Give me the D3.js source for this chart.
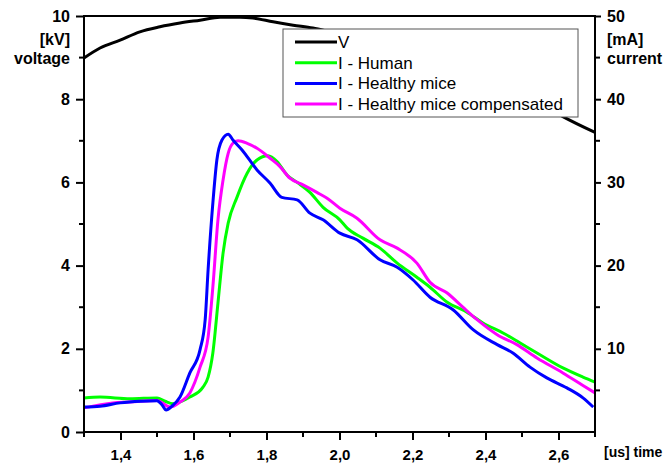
<!DOCTYPE html>
<html>
<head>
<meta charset="utf-8">
<script src="https://cdn.jsdelivr.net/npm/d3@7"></script>
<style>
  body { margin: 0; background: #fff; }
  text { font-family: Arial, "Liberation Sans", sans-serif; }
</style>
</head>
<body>
<div id="chart"></div>
<script>
// voltage [kV], time [us]
const tV = [1.30, 1.344, 1.399, 1.453, 1.508, 1.563, 1.618, 1.673, 1.727, 1.763, 1.818, 1.873, 1.927, 1.966, 2.04, 2.111, 2.19, 2.275, 2.36, 2.44, 2.53, 2.612, 2.70]
const vV = [8.99, 9.23, 9.42, 9.62, 9.74, 9.83, 9.90, 9.97, 9.97, 9.95, 9.86, 9.78, 9.71, 9.64, 9.49, 9.32, 9.14, 8.93, 8.68, 8.38, 8.0, 7.58, 7.2]

// currents [mA]
const tHuman = [1.30, 1.344, 1.426, 1.50, 1.522, 1.544, 1.590, 1.626, 1.640, 1.653, 1.667, 1.681, 1.695, 1.719, 1.747, 1.774, 1.804, 1.829, 1.856, 1.884, 1.919, 1.955, 2.001, 2.021, 2.064, 2.111, 2.158, 2.212, 2.248, 2.295, 2.349, 2.393, 2.448, 2.495, 2.541, 2.612, 2.667, 2.70]
const iHuman = [4.1, 4.2, 4.0, 4.1, 3.7, 3.4, 4.2, 5.4, 6.6, 9.5, 15.5, 21.5, 25.1, 28.2, 31.1, 32.7, 33.2, 32.5, 30.9, 30.0, 28.8, 27.0, 25.5, 24.5, 23.3, 22.1, 20.3, 18.6, 17.4, 15.6, 14.4, 13.1, 11.9, 10.7, 9.5, 7.7, 6.6, 6.0]

const tMice = [1.30, 1.344, 1.399, 1.455, 1.50, 1.514, 1.525, 1.541, 1.563, 1.590, 1.618, 1.632, 1.640, 1.653, 1.664, 1.678, 1.695, 1.708, 1.733, 1.774, 1.810, 1.842, 1.884, 1.919, 1.955, 2.001, 2.048, 2.111, 2.158, 2.201, 2.248, 2.311, 2.366, 2.432, 2.475, 2.522, 2.568, 2.623, 2.667, 2.695]
const iMice = [3.0, 3.1, 3.5, 3.7, 3.76, 3.25, 2.64, 3.1, 4.2, 7.1, 9.9, 13.5, 19.5, 27.5, 32.7, 35.1, 35.8, 35.1, 33.9, 31.5, 29.9, 28.2, 27.9, 26.3, 25.5, 23.9, 23.1, 20.7, 19.8, 18.3, 16.2, 14.7, 12.3, 10.5, 9.5, 7.8, 6.5, 5.3, 4.1, 3.0]

const tComp = [1.30, 1.379, 1.426, 1.50, 1.536, 1.563, 1.590, 1.618, 1.640, 1.653, 1.667, 1.681, 1.695, 1.708, 1.722, 1.747, 1.774, 1.810, 1.837, 1.864, 1.900, 1.938, 1.966, 2.001, 2.048, 2.111, 2.158, 2.212, 2.248, 2.295, 2.338, 2.377, 2.432, 2.486, 2.541, 2.612, 2.667, 2.70]
const iComp = [2.9, 3.5, 3.6, 3.8, 3.0, 3.6, 4.7, 7.8, 11.4, 17.4, 25.5, 30.3, 33.5, 34.7, 35.0, 34.7, 34.1, 32.9, 31.9, 30.5, 29.7, 28.8, 28.1, 26.9, 25.7, 23.1, 22.1, 20.3, 18.0, 16.7, 15.0, 13.5, 11.7, 10.5, 8.9, 7.1, 5.6, 4.7]

const xTicks = [1.4, 1.6, 1.8, 2.0, 2.2, 2.4, 2.6]
const xMinor = [1.3, 1.5, 1.7, 1.9, 2.1, 2.3, 2.5, 2.7]
const yLeftTicks = [0, 2, 4, 6, 8, 10]
const yLeftMinor = [1, 3, 5, 7, 9]
const yRightTicks = [10, 20, 30, 40, 50]
const yRightMinor = [5, 15, 25, 35, 45]

const legendNames = ["V", "I - Human", "I - Healthy mice", "I - Healthy mice compensated"]
const colors = ["#000000", "#00ff00", "#0000ff", "#ff00ff"]

const width = 666, height = 464
const margin = { top: 16, right: 71, bottom: 32, left: 84 }

const svg = d3.select("#chart").append("svg")
  .attr("width", width)
  .attr("height", height)

const x = d3.scaleLinear().domain([1.3, 2.7]).range([margin.left, width - margin.right])
const yL = d3.scaleLinear().domain([0, 10]).range([height - margin.bottom, margin.top])
const yR = d3.scaleLinear().domain([0, 50]).range([height - margin.bottom, margin.top])

const x0 = x.range()[0], x1 = x.range()[1]
const yb = yL.range()[0], yt = yL.range()[1]

// curves
const toPts = (ts, vs) => ts.map((t, i) => [t, vs[i]])
const lineL = d3.line().x(d => x(d[0])).y(d => yL(d[1])).curve(d3.curveMonotoneX)
const lineR = d3.line().x(d => x(d[0])).y(d => yR(d[1])).curve(d3.curveMonotoneX)

const g = svg.append("g")
g.append("path").datum(toPts(tV, vV)).attr("d", lineL)
  .attr("fill", "none").attr("stroke", colors[0]).attr("stroke-width", 3)
g.append("path").datum(toPts(tHuman, iHuman)).attr("d", lineR)
  .attr("fill", "none").attr("stroke", colors[1]).attr("stroke-width", 3)
g.append("path").datum(toPts(tComp, iComp)).attr("d", lineR)
  .attr("fill", "none").attr("stroke", colors[3]).attr("stroke-width", 3)
g.append("path").datum(toPts(tMice, iMice)).attr("d", lineR)
  .attr("fill", "none").attr("stroke", colors[2]).attr("stroke-width", 3)

// frame
svg.append("rect")
  .attr("x", x0).attr("y", yt)
  .attr("width", x1 - x0).attr("height", yb - yt)
  .attr("fill", "none").attr("stroke", "#000").attr("stroke-width", 2)

// bottom axis
const bottom = svg.append("g").attr("transform", `translate(0,${yb})`)
  .call(d3.axisBottom(x).tickValues(xTicks).tickSize(8).tickPadding(9)
    .tickFormat(d => d3.format(".1f")(d).replace(".", ",")))
bottom.select(".domain").remove()
bottom.selectAll(".tick line").attr("stroke-width", 2)
bottom.selectAll(".tick text")
  .style("font-size", "15px").style("font-weight", "bold").attr("fill", "#000")
svg.append("g").selectAll("line").data(xMinor).join("line")
  .attr("x1", d => x(d)).attr("x2", d => x(d))
  .attr("y1", yb).attr("y2", yb + 5)
  .attr("stroke", "#000").attr("stroke-width", 2)

// left axis
const left = svg.append("g").attr("transform", `translate(${x0},0)`)
  .call(d3.axisLeft(yL).tickValues(yLeftTicks).tickSize(8).tickPadding(6).tickFormat(d3.format("d")))
left.select(".domain").remove()
left.selectAll(".tick line").attr("stroke-width", 2)
left.selectAll(".tick text")
  .style("font-size", "16px").style("font-weight", "bold").attr("fill", "#000")
svg.append("g").selectAll("line").data(yLeftMinor).join("line")
  .attr("x1", x0 - 5).attr("x2", x0)
  .attr("y1", d => yL(d)).attr("y2", d => yL(d))
  .attr("stroke", "#000").attr("stroke-width", 2)

// right axis
const right = svg.append("g").attr("transform", `translate(${x1},0)`)
  .call(d3.axisRight(yR).tickValues(yRightTicks).tickSize(6).tickPadding(6).tickFormat(d3.format("d")))
right.select(".domain").remove()
right.selectAll(".tick line").attr("stroke-width", 2)
right.selectAll(".tick text")
  .style("font-size", "16px").style("font-weight", "bold").attr("fill", "#000")
svg.append("g").selectAll("line").data(yRightMinor).join("line")
  .attr("x1", x1).attr("x2", x1 + 5)
  .attr("y1", d => yR(d)).attr("y2", d => yR(d))
  .attr("stroke", "#000").attr("stroke-width", 2)

// axis titles
const bold = (sel, size) => sel.style("font-size", size + "px").style("font-weight", "bold").attr("fill", "#000")
svg.append("text").attr("x", 70).attr("y", 45).attr("text-anchor", "end").text("[kV]").call(bold, 16)
svg.append("text").attr("x", 70).attr("y", 64).attr("text-anchor", "end").text("voltage").call(bold, 16)
svg.append("text").attr("x", 607).attr("y", 45).text("[mA]").call(bold, 16)
svg.append("text").attr("x", 607).attr("y", 64).text("current").call(bold, 16)
svg.append("text").attr("x", 604).attr("y", 457).text("[us] time").call(bold, 14)

// legend
const lg = svg.append("g")
lg.append("rect").attr("x", 283).attr("y", 29).attr("width", 295).attr("height", 88)
  .attr("fill", "#fff").attr("stroke", "#555").attr("stroke-width", 1)
const rows = lg.selectAll("g.row").data(legendNames).join("g")
  .attr("class", "row")
  .attr("transform", (d, i) => `translate(295,${42 + i * 20.7})`)
rows.append("line").attr("x1", 0).attr("x2", 42)
  .attr("stroke", (d, i) => colors[i]).attr("stroke-width", 3)
rows.append("text").attr("x", 43).attr("y", 6)
  .style("font-size", "17px").attr("fill", "#000")
  .text(d => d)
</script>
</body>
</html>
